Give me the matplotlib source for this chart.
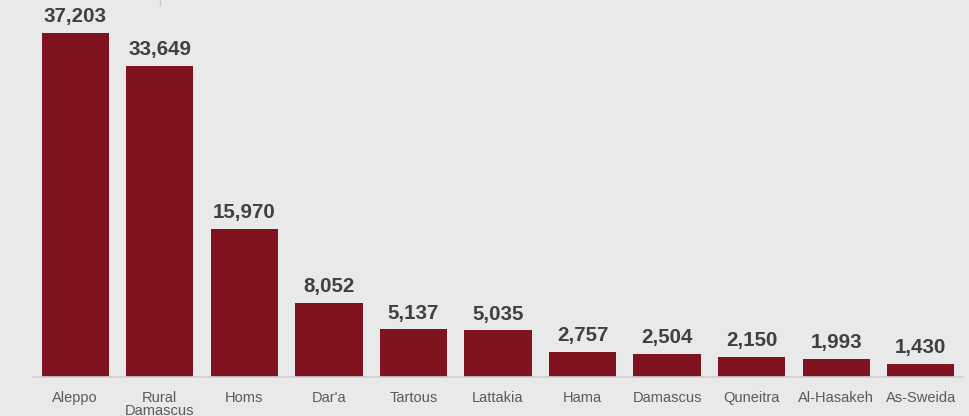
import matplotlib.pyplot as plt

plt.rcParams['font.family'] = ['Liberation Sans', 'DejaVu Sans']

regions = ["Aleppo", "Rural\nDamascus", "Homs", "Dar'a", "Tartous", "Lattakia",
           "Hama", "Damascus", "Quneitra", "Al-Hasakeh", "As-Sweida"]
counts = [37203, 33649, 15970, 8052, 5137, 5035, 2757, 2504, 2150, 1993, 1430]

bg = '#e9e9e9'
fig = plt.figure(figsize=(9.7, 4.16), dpi=100, facecolor=bg)
ax = fig.add_axes([33 / 970, 39 / 416, 930 / 970, 377 / 416])
ax.set_facecolor(bg)

x = range(len(counts))
bars = ax.bar(x, counts, width=0.795, color='#7f1420', zorder=2)

for xi, v in zip(x, counts):
    ax.text(xi, v + 750, f"{v:,}", ha='center', va='bottom',
            fontsize=14.8, fontweight='bold', color='#404040')

ax.set_xlim(-0.5, 10.5)
ax.set_ylim(0, 40770)
ax.set_xticks(list(x))
ax.set_xticklabels(regions, fontsize=10.5, color='#5a5a5a', linespacing=0.95)
ax.tick_params(axis='x', length=0, pad=10)
ax.set_yticks([])

for s in ['top', 'left', 'right']:
    ax.spines[s].set_visible(False)
ax.spines['bottom'].set_color('#d0d0d0')
ax.spines['bottom'].set_linewidth(1.2)

# faint tick stub at the top of the chart
ax.plot([1, 1], [40770, 40200], color='#c8c8c8', lw=1, clip_on=False)

fig.savefig('out.png', dpi=100, facecolor=bg)
